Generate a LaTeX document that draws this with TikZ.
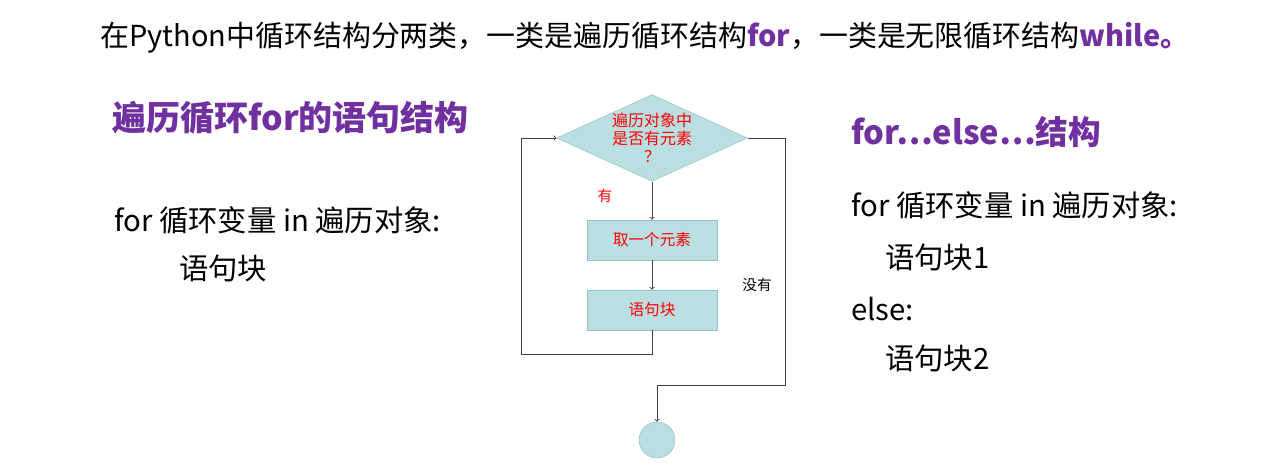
\documentclass[tikz,border=0pt]{standalone}
\usepackage{fontspec}
\setmainfont{Noto Sans CJK SC}
\usetikzlibrary{shapes.geometric}
\definecolor{boxfill}{RGB}{186,223,227}
\definecolor{boxline}{RGB}{150,194,199}
\definecolor{kwpurple}{RGB}{112,48,160}
\definecolor{flowline}{RGB}{64,64,64}
\tikzset{
    decision/.style={diamond, draw=boxline, fill=boxfill, aspect=2.2, inner sep=0pt,
        minimum width=143pt, minimum height=65pt, align=center, text=red,
        font=\fontsize{12}{13.5}\selectfont},
    stepbox/.style={rectangle, draw=boxline, fill=boxfill, minimum width=97.5pt,
        minimum height=30pt, text=red, font=\fontsize{11.7}{14}\selectfont},
    endpoint/.style={circle, draw=boxline, fill=boxfill, minimum size=27pt},
    flow/.style={draw=flowline, semithick, ->},
    branch/.style={font=\fontsize{11}{13}\selectfont},
    heading/.style={anchor=west, inner sep=0pt, text=kwpurple, font=\bfseries\fontsize{25.5}{30}\selectfont},
    code/.style={anchor=west, inner sep=0pt, font=\fontsize{22}{26}\selectfont}
}
\begin{document}
\begin{tikzpicture}[x=0.75pt, y=-0.75pt]
\useasboundingbox (0,0) rectangle (1274,467);
% heading line
\node[font=\fontsize{21.7}{26}\selectfont] (intro) at (645,38)
  {在Python中循环结构分两类，一类是遍历循环结构\textbf{\color{kwpurple}for}，一类是无限循环结构\textbf{\color{kwpurple}while。}};
% left column
\node[heading] (forhead) at (112,118) {遍历循环for的语句结构};
\node[code] (forline) at (114,220) {for 循环变量 in 遍历对象:};
\node[code] (forbody) at (179,268) {语句块};
% flow chart
\node[decision] (test) at (652,138) {遍历对象中\\是否有元素\\？};
\node[stepbox] (take) at (652,240) {取一个元素};
\node[stepbox] (body) at (652,310) {语句块};
\node[endpoint] (done) at (657,440) {};
\coordinate (loopturn) at (521,354);
\coordinate (exitturn) at (785,385);
\draw[flow] (test.south) -- (take.north);
\draw[flow] (take.south) -- (body.north);
\draw[flow] (body.south) |- (loopturn) |- (test.west);
\draw[flow] (test.east) -| (exitturn) -| (done.north);
\node[branch, text=red] (yes) at (605,196) {有};
\node[branch] (no) at (757,285) {没有};
% right column
\node[heading, font=\bfseries\fontsize{24.5}{28}\selectfont] (elsehead) at (851,132) {for…else…结构};
\node[code] (elseline) at (851,205) {for 循环变量 in 遍历对象:};
\node[code] (elsebody) at (885,257) {语句块1};
\node[code] (elsekw) at (851,309) {else:};
\node[code] (elsebodytwo) at (885,358) {语句块2};
\end{tikzpicture}
\end{document}
